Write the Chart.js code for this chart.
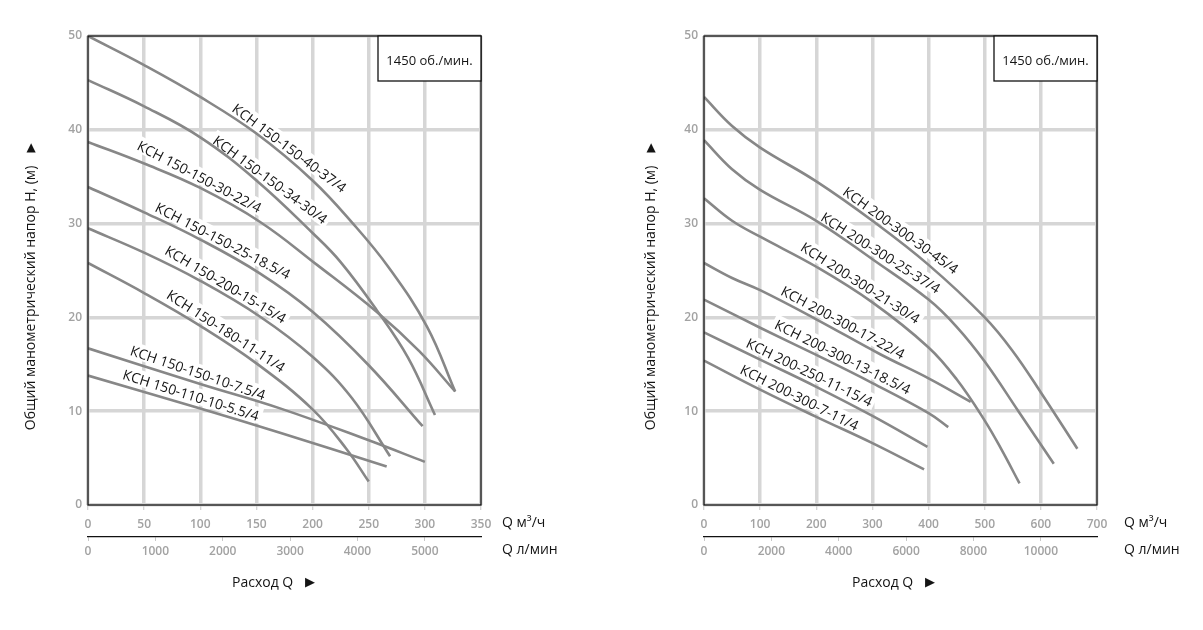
<!DOCTYPE html>
<html>
<head>
<meta charset="utf-8">
<script src="https://cdn.jsdelivr.net/npm/chart.js@4.4.0/dist/chart.umd.min.js"></script>
<style>
html, body { margin: 0; padding: 0; background: #fff; }
#wrap { position: relative; width: 1203px; height: 630px; overflow: hidden; }
canvas { position: absolute; top: 0; }
#chart150 { left: 0; }
#chart200 { left: 600px; }
</style>
</head>
<body>
<div id="wrap">
  <canvas id="chart150" width="600" height="630"></canvas>
  <canvas id="chart200" width="603" height="630"></canvas>
</div>
<script>
// шкалы
var headTicks = [0, 10, 20, 30, 40, 50];
var flowTicks150 = [0, 50, 100, 150, 200, 250, 300, 350];
var lpmTicks150 = [0, 1000, 2000, 3000, 4000, 5000];
var flowTicks200 = [0, 100, 200, 300, 400, 500, 600, 700];
var lpmTicks200 = [0, 2000, 4000, 6000, 8000, 10000];

// КСН 150 : подача Q (м3/ч) и напор H (м)
var names150 = ['КСН 150-150-40-37/4', 'КСН 150-150-34-30/4', 'КСН 150-150-30-22/4',
  'КСН 150-150-25-18.5/4', 'КСН 150-200-15-15/4', 'КСН 150-180-11-11/4',
  'КСН 150-150-10-7.5/4', 'КСН 150-110-10-5.5/4'];
var q150_40 = [0, 50, 100, 150, 200, 236, 268, 302, 327];
var h150_40 = [50, 46.9, 43.5, 39.6, 34.6, 30.0, 25.3, 19.0, 12.1];
var q150_34 = [0, 50, 100, 150, 200, 225, 257, 285, 309];
var h150_34 = [45.3, 42.5, 39.2, 34.6, 29.0, 25.9, 20.8, 15.7, 9.6];
var q150_30 = [0, 50, 100, 153, 204, 257, 295, 327];
var h150_30 = [38.7, 36.4, 33.8, 30.2, 25.6, 20.6, 16.4, 12.1];
var q150_25 = [0, 50, 100, 153, 200, 250, 298];
var h150_25 = [33.9, 31.2, 28.3, 24.7, 20.6, 14.9, 8.4];
var q150_15 = [0, 50, 100, 153, 200, 235, 269];
var h150_15 = [29.5, 26.9, 23.9, 20.1, 15.8, 11.4, 5.2];
var q150_11 = [0, 50, 100, 150, 200, 230, 250];
var h150_11 = [25.8, 22.6, 19.1, 15.1, 10.2, 6.0, 2.5];
var q150_7 = [0, 100, 171, 250, 300];
var h150_7 = [16.7, 12.9, 10.3, 6.9, 4.6];
var q150_5 = [0, 100, 171, 266];
var h150_5 = [13.8, 10.3, 7.7, 4.1];

// КСН 200 : подача Q (м3/ч) и напор H (м)
var names200 = ['КСН 200-300-30-45/4', 'КСН 200-300-25-37/4', 'КСН 200-300-21-30/4',
  'КСН 200-300-17-22/4', 'КСН 200-300-13-18.5/4', 'КСН 200-250-11-15/4', 'КСН 200-300-7-11/4'];
var q200_30 = [0, 50, 100, 200, 300, 400, 500, 550, 600, 665];
var h200_30 = [43.5, 40.4, 38.1, 34.5, 30.3, 25.6, 20.0, 16.4, 12.0, 6.0];
var q200_25 = [0, 50, 100, 200, 300, 400, 450, 500, 560, 623];
var h200_25 = [38.9, 35.8, 33.6, 30.3, 26.2, 21.9, 19.0, 15.3, 10.0, 4.4];
var q200_21 = [0, 50, 100, 200, 300, 400, 450, 500, 530, 562];
var h200_21 = [32.7, 30.3, 28.6, 25.4, 21.6, 16.8, 13.4, 9.0, 5.9, 2.3];
var q200_17 = [0, 50, 100, 200, 313, 400, 475];
var h200_17 = [25.8, 24.2, 22.9, 19.8, 16.1, 13.5, 11.0];
var q200_13 = [0, 100, 200, 300, 400, 435];
var h200_13 = [21.9, 18.9, 16.0, 13.0, 9.8, 8.3];
var q250_11 = [0, 100, 200, 300, 398];
var h250_11 = [18.4, 15.5, 12.6, 9.5, 6.2];
var q200_7 = [0, 100, 200, 300, 392];
var h200_7 = [15.4, 12.3, 9.4, 6.6, 3.8];

// где стоят подписи кривых (подача в центре подписи, наклон в градусах)
var labelAt150 = [174, 157, 95, 116, 118, 118, 95, 89];
var labelAngle150 = [36.7, 36.5, 27.8, 27.4, 30.7, 33.1, 18.7, 17.4];
var labelAt200 = [340, 305, 269, 239, 239, 180, 162];
var labelAngle200 = [35.8, 32.4, 32.6, 28.3, 26.6, 25.8, 26.6];

var FONT = '"Open Sans", "Noto Sans", sans-serif';
var TEXT = '#141414';

function headAt(qs, hs, q) {
    for (var i = 1; i < qs.length; i++) {
        if (q <= qs[i]) {
            var t = (q - qs[i - 1]) / (qs[i] - qs[i - 1]);
            return hs[i - 1] + t * (hs[i] - hs[i - 1]);
        }
    }
    return hs[hs.length - 1];
}

function drawCurveLabels(chart, cfg, bgOnly) {
    var ctx = chart.ctx, xs = chart.scales.x, ys = chart.scales.y;
    ctx.save();
    ctx.font = '14px ' + FONT;
    cfg.curves.forEach(function (c, i) {
        var at = cfg.labelAt[i];
        var px = xs.getPixelForValue(at);
        var py = ys.getPixelForValue(headAt(c[0], c[1], at));
        ctx.save();
        ctx.translate(px, py);
        ctx.rotate(cfg.labelAngle[i] * Math.PI / 180);
        var w = ctx.measureText(cfg.names[i]).width;
        if (bgOnly) {
            ctx.fillStyle = '#fff';
            ctx.fillRect(-w / 2 - 3, -19, w + 6, 16);
        } else {
            ctx.fillStyle = TEXT;
            ctx.textAlign = 'center';
            ctx.textBaseline = 'alphabetic';
            ctx.fillText(cfg.names[i], 0, -5);
        }
        ctx.restore();
    });
    ctx.restore();
}

function decor(cfg) {
    return {
        id: 'decor',
        beforeDatasetsDraw: function (chart) {
            drawCurveLabels(chart, cfg, true);
        },
        afterDatasetsDraw: function (chart) {
            var ctx = chart.ctx, a = chart.chartArea;
            drawCurveLabels(chart, cfg, false);
            ctx.save();
            ctx.strokeStyle = '#111';
            ctx.lineWidth = 1.3;
            ctx.strokeRect(a.left, a.top, a.right - a.left, a.bottom - a.top);

            // табличка с частотой вращения
            var bw = 103, bh = 45;
            ctx.fillStyle = '#fff';
            ctx.fillRect(a.right - bw, a.top, bw, bh);
            ctx.strokeRect(a.right - bw, a.top, bw, bh);
            ctx.fillStyle = TEXT;
            ctx.font = '13px ' + FONT;
            ctx.textAlign = 'center';
            ctx.textBaseline = 'middle';
            ctx.fillText('1450 об./мин.', a.right - bw / 2, a.top + bh / 2 + 3);

            // подписи осей
            ctx.font = '14px ' + FONT;
            ctx.textAlign = 'left';
            ctx.fillText('Q м³/ч', a.right + cfg.unitGap, 523);
            ctx.fillText('Q л/мин', a.right + cfg.unitGap, 550);
            ctx.fillText('Расход Q', a.left + cfg.flowTitleGap, 583);
            ctx.font = '13px "DejaVu Sans"';
            ctx.fillText('▶', a.left + cfg.flowTitleGap + 73, 583);

            ctx.save();
            ctx.translate(a.left + cfg.headTitleGap, 298);
            ctx.rotate(-Math.PI / 2);
            ctx.font = '14px ' + FONT;
            ctx.textAlign = 'center';
            ctx.fillText('Общий манометрический напор H, (м)', 0, 0);
            ctx.restore();
            ctx.font = '12px "DejaVu Sans"';
            ctx.textAlign = 'center';
            ctx.fillText('▲', a.left + cfg.headTitleGap, 148);
            ctx.restore();
        }
    };
}

function tickList(list) {
    return function (scale) {
        scale.ticks = list.map(function (v) { return { value: v }; });
    };
}

function makeChart(id, cfg) {
    var datasets = cfg.curves.map(function (c, i) {
        return {
            label: cfg.names[i],
            data: c[0].map(function (q, j) { return { x: q, y: c[1][j] }; }),
            borderColor: '#878787',
            borderWidth: 2.6,
            pointRadius: 0,
            fill: false,
            tension: 0.4
        };
    });
    var tickFont = { family: FONT, size: 12, weight: '600' };
    var flowMax = cfg.flowTicks[cfg.flowTicks.length - 1];
    return new Chart(document.getElementById(id).getContext('2d'), {
        type: 'line',
        data: { datasets: datasets },
        options: {
            responsive: false,
            animation: false,
            layout: { padding: { left: 0, right: cfg.padRight, top: 36, bottom: 53 } },
            plugins: { legend: { display: false }, tooltip: { enabled: false } },
            scales: {
                x: {
                    type: 'linear',
                    position: 'bottom',
                    min: 0,
                    max: flowMax,
                    afterBuildTicks: tickList(cfg.flowTicks),
                    afterFit: function (s) { s.height = 32; },
                    grid: { color: '#d6d6d6', lineWidth: 3.5, tickLength: 5, tickColor: '#c8c8c8', tickWidth: 1 },
                    border: { display: false },
                    ticks: { color: '#a2a2a2', font: tickFont, padding: 7, maxRotation: 0,
                        callback: function (v) { return String(v); } }
                },
                x2: {
                    type: 'linear',
                    position: 'bottom',
                    min: 0,
                    max: flowMax * 1000 / 60,
                    afterBuildTicks: tickList(cfg.lpmTicks),
                    afterFit: function (s) { s.height = 40; },
                    grid: { drawOnChartArea: false, tickLength: 4, color: '#c8c8c8', lineWidth: 1 },
                    border: { display: true, color: '#111', width: 1.3 },
                    ticks: { color: '#a2a2a2', font: tickFont, padding: 3, maxRotation: 0,
                        callback: function (v) { return String(v); } }
                },
                y: {
                    type: 'linear',
                    min: 0,
                    max: 50,
                    afterBuildTicks: tickList(headTicks),
                    afterFit: function (s) { s.width = cfg.yWidth; },
                    grid: { color: '#d6d6d6', lineWidth: 3.5, drawTicks: false },
                    border: { display: false },
                    ticks: { color: '#a2a2a2', font: tickFont, padding: 6 }
                }
            }
        },
        plugins: [decor(cfg)]
    });
}

var chart150 = makeChart('chart150', {
    names: names150,
    curves: [[q150_40, h150_40], [q150_34, h150_34], [q150_30, h150_30], [q150_25, h150_25],
        [q150_15, h150_15], [q150_11, h150_11], [q150_7, h150_7], [q150_5, h150_5]],
    labelAt: labelAt150,
    labelAngle: labelAngle150,
    flowTicks: flowTicks150,
    lpmTicks: lpmTicks150,
    yWidth: 88,
    padRight: 119,
    unitGap: 21,
    flowTitleGap: 144,
    headTitleGap: -57
});

var chart200 = makeChart('chart200', {
    names: names200,
    curves: [[q200_30, h200_30], [q200_25, h200_25], [q200_21, h200_21], [q200_17, h200_17],
        [q200_13, h200_13], [q250_11, h250_11], [q200_7, h200_7]],
    labelAt: labelAt200,
    labelAngle: labelAngle200,
    flowTicks: flowTicks200,
    lpmTicks: lpmTicks200,
    yWidth: 104,
    padRight: 106,
    unitGap: 27,
    flowTitleGap: 148,
    headTitleGap: -53
});
</script>
</body>
</html>
